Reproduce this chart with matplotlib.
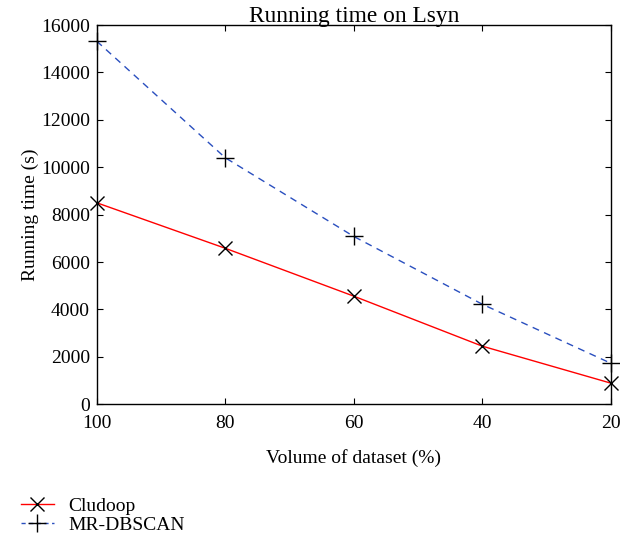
import matplotlib.pyplot as plt
from matplotlib.lines import Line2D

plt.rcParams['font.family'] = ['Liberation Serif', 'DejaVu Serif']
plt.rcParams['font.size'] = 14

volume = [100, 80, 60, 40, 20]
cludoop = [8500, 6580, 4560, 2450, 890]
mr_dbscan = [15320, 10400, 7080, 4220, 1730]

fig = plt.figure(figsize=(6.2, 5.44), dpi=100)
ax = fig.add_axes([0.156, 0.257, 0.829, 0.697])

ax.plot(volume, cludoop, color='red', lw=1.0, marker='x', ms=10,
        mec='black', mew=1.0, clip_on=False)
ax.plot(volume, mr_dbscan, color='#2a4fbf', lw=1.0, ls=(0, (5, 4)),
        marker='+', ms=13, mec='black', mew=1.0, clip_on=False)

ax.set_xlim(100, 20)
ax.set_ylim(0, 16000)
ax.set_xticks([100, 80, 60, 40, 20])
ax.set_yticks(range(0, 16001, 2000))
ax.tick_params(direction='in', length=4, top=True, right=True, width=0.8)
ax.tick_params(axis='x', pad=8)
ax.tick_params(axis='y', pad=5)
for s in ax.spines.values():
    s.set_linewidth(1.0)

ax.set_title('Running time on Lsyn', pad=2)
ax.set_xlabel('Volume of dataset (%)', labelpad=12)
ax.set_ylabel('Running time (s)', labelpad=1)

# legend handles with a shorter dash so the blue bits show on both sides
h1 = Line2D([], [], color='red', lw=1.0, marker='x', ms=10, mec='black', mew=1.0)
h2 = Line2D([], [], color='#2a4fbf', lw=1.0, ls=(0, (3, 2.5)), marker='+',
            ms=13, mec='black', mew=1.0)
fig.legend(handles=[h1, h2], labels=['Cludoop', 'MR-DBSCAN'],
           loc='upper left', bbox_to_anchor=(0.022, 0.10),
           frameon=False, handlelength=1.65, handletextpad=0.75,
           labelspacing=0.05, borderaxespad=0)

fig.savefig('out.png', dpi=100)
